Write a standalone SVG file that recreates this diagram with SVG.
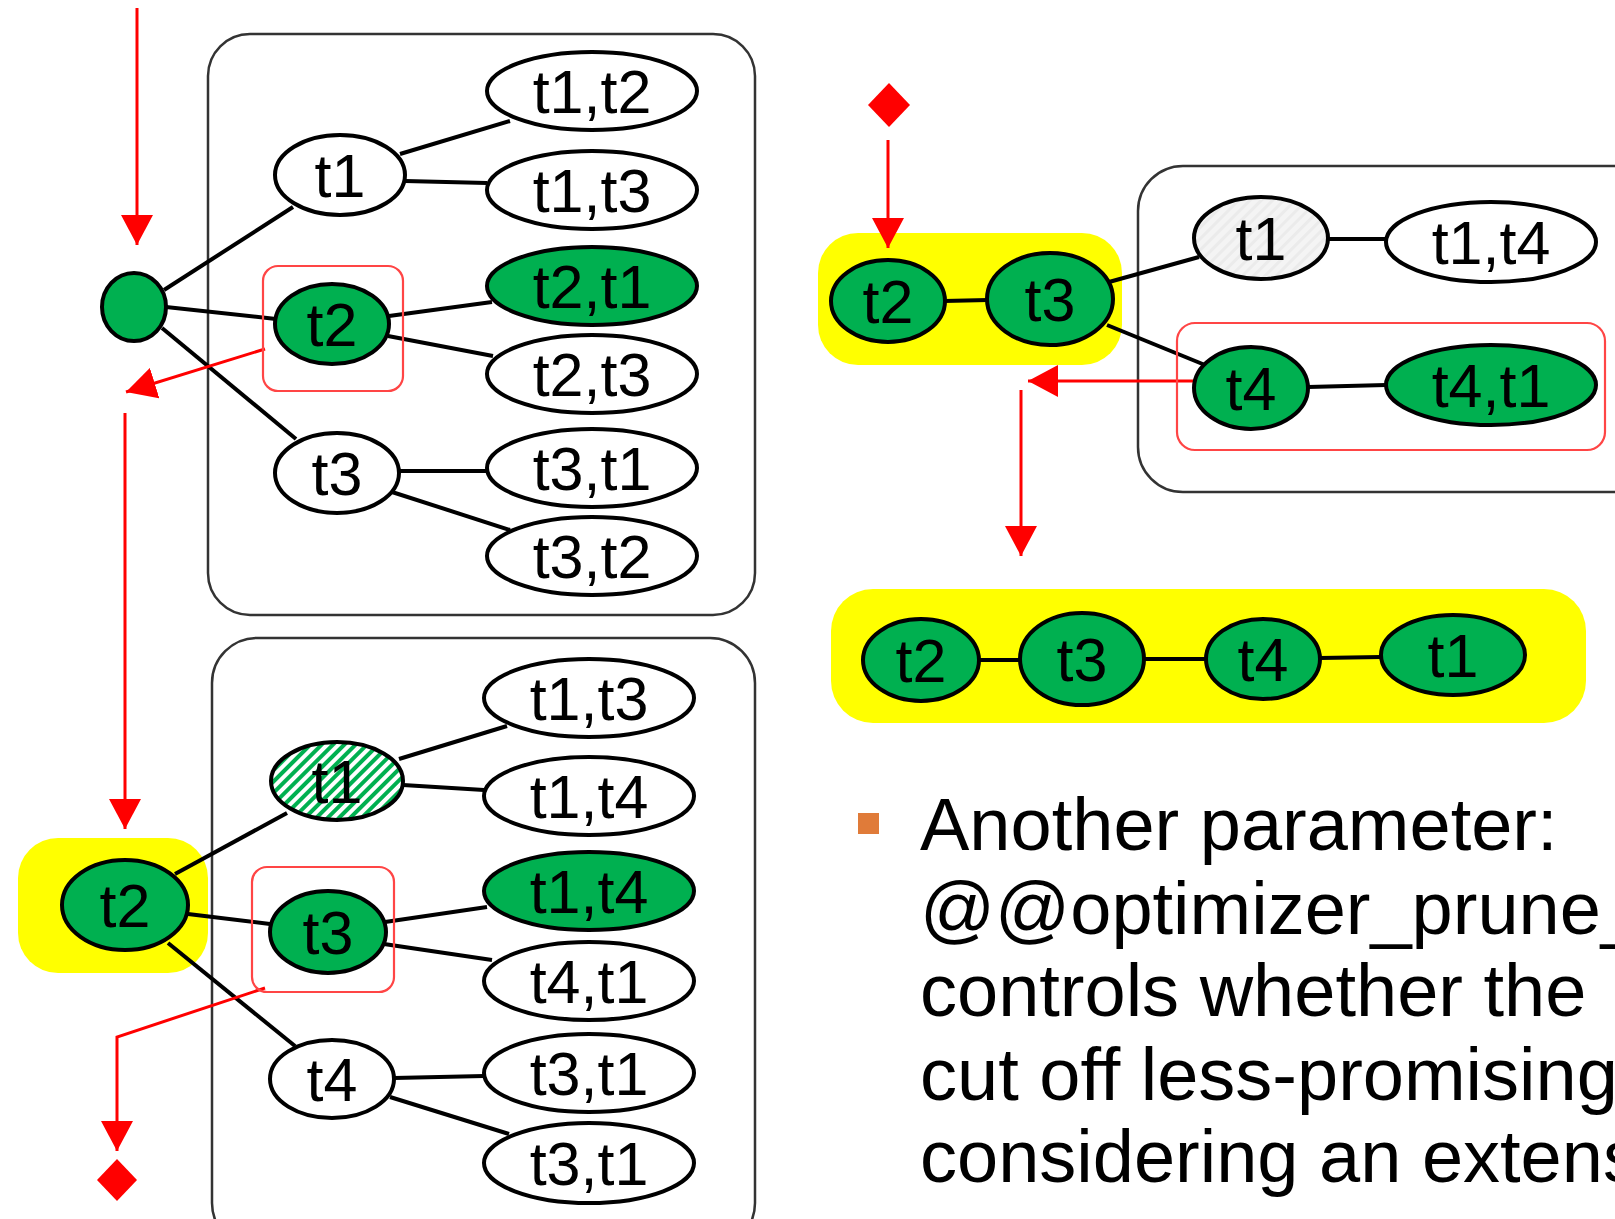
<svg xmlns="http://www.w3.org/2000/svg" width="1615" height="1219" viewBox="0 0 1615 1219">
<defs>
<style>
.box{fill:none;stroke:#333;stroke-width:2.5}
.hl{fill:#ffff00}
.sel{fill:none;stroke:#ff4545;stroke-width:2.2}
.n{stroke:#000;stroke-width:4}
.w{fill:#fff}
.g{fill:#00b050}
.e{stroke:#000;stroke-width:4;fill:none}
.r{stroke:#ff0000;stroke-width:3;fill:none}
.t{font-family:"Liberation Sans",Arial,sans-serif;font-size:61px;text-anchor:middle;fill:#000}
.body{font-family:"Liberation Sans",Arial,sans-serif;font-size:74px;fill:#000}
</style>
<marker id="ah" viewBox="0 0 30 32" refX="30" refY="16" markerWidth="30" markerHeight="32" markerUnits="userSpaceOnUse" orient="auto">
<path d="M0,0 L30,16 L0,32 z" fill="#ff0000"/>
</marker>
<pattern id="hatch" width="8" height="8" patternUnits="userSpaceOnUse" patternTransform="rotate(45)">
<rect width="8" height="8" fill="#fff"/>
<rect width="4" height="8" fill="#00b050"/>
</pattern>
<pattern id="hatchL" width="8" height="8" patternUnits="userSpaceOnUse" patternTransform="rotate(45)">
<rect width="8" height="8" fill="#f4f4f4"/>
<rect width="3" height="8" fill="#ebebeb"/>
</pattern>
</defs>

<g id="highlights">
<rect class="hl" x="18" y="838" width="190" height="135" rx="40"/>
<rect class="hl" x="818" y="233" width="304" height="132" rx="40"/>
<rect class="hl" x="831" y="589" width="755" height="134" rx="42"/>
</g>

<g id="panels">
<rect id="panel-top-left" class="box" x="208" y="34" width="547" height="581" rx="42"/>
<rect id="panel-bottom-left" class="box" x="212" y="638" width="543" height="610" rx="45"/>
<rect id="panel-right" class="box" x="1138" y="166" width="520" height="326" rx="45"/>
</g>

<g id="connectors">
<line class="e" x1="164" y1="290" x2="293" y2="207"/>
<line class="e" x1="166" y1="307" x2="276" y2="319"/>
<line class="e" x1="162" y1="328" x2="296" y2="439"/>
<line class="e" x1="400" y1="154" x2="510" y2="121"/>
<line class="e" x1="405" y1="181" x2="487" y2="183"/>
<line class="e" x1="389" y1="316" x2="492" y2="302"/>
<line class="e" x1="388" y1="336" x2="493" y2="356"/>
<line class="e" x1="398" y1="471" x2="487" y2="471"/>
<line class="e" x1="392" y1="492" x2="510" y2="530"/>
<line class="e" x1="175" y1="874" x2="287" y2="813"/>
<line class="e" x1="188" y1="914" x2="270" y2="924"/>
<line class="e" x1="168" y1="943" x2="295" y2="1046"/>
<line class="e" x1="399" y1="759" x2="507" y2="726"/>
<line class="e" x1="403" y1="785" x2="484" y2="790"/>
<line class="e" x1="385" y1="922" x2="487" y2="907"/>
<line class="e" x1="384" y1="944" x2="492" y2="960"/>
<line class="e" x1="394" y1="1078" x2="484" y2="1076"/>
<line class="e" x1="390" y1="1097" x2="509" y2="1134"/>
<line class="e" x1="944" y1="301" x2="988" y2="300"/>
<line class="e" x1="1109" y1="282" x2="1199" y2="257"/>
<line class="e" x1="1107" y1="325" x2="1205" y2="365"/>
<line class="e" x1="1328" y1="239" x2="1386" y2="239"/>
<line class="e" x1="1308" y1="387" x2="1386" y2="385"/>
<line class="e" x1="979" y1="660" x2="1020" y2="660"/>
<line class="e" x1="1144" y1="659" x2="1206" y2="659"/>
<line class="e" x1="1320" y1="658" x2="1381" y2="657"/>
<line class="r" x1="137" y1="8" x2="137" y2="245" marker-end="url(#ah)"/>
<line class="r" x1="265" y1="349" x2="126" y2="392" marker-end="url(#ah)"/>
<line class="r" x1="125" y1="413" x2="125" y2="829" marker-end="url(#ah)"/>
<polyline class="r" points="265,988 117,1037 117,1151" marker-end="url(#ah)"/>
<line class="r" x1="888" y1="140" x2="888" y2="248" marker-end="url(#ah)"/>
<line class="r" x1="1195" y1="381" x2="1028" y2="381" marker-end="url(#ah)"/>
<line class="r" x1="1021" y1="390" x2="1021" y2="556" marker-end="url(#ah)"/>
</g>

<g id="end-markers">
<polygon id="diamond-bottom-left" points="117,1159 137,1180 117,1201 97,1180" fill="#ff0000"/>
<polygon id="diamond-right" points="889,83 910,105 889,127 868,105" fill="#ff0000"/>
</g>

<g id="nodes">
<g id="tl-root"><ellipse class="n g" cx="134" cy="307" rx="32" ry="34"/></g>
<g id="tl-t1"><ellipse class="n w" cx="340" cy="175" rx="65" ry="40"/><text class="t" x="340" y="197">t1</text></g>
<g id="tl-t2"><ellipse class="n g" cx="332" cy="324" rx="57" ry="40"/><text class="t" x="332" y="346">t2</text></g>
<g id="tl-t3"><ellipse class="n w" cx="337" cy="473" rx="62" ry="40"/><text class="t" x="337" y="495">t3</text></g>
<g id="tl-t1t2"><ellipse class="n w" cx="592" cy="91" rx="105" ry="39"/><text class="t" x="592" y="113">t1,t2</text></g>
<g id="tl-t1t3"><ellipse class="n w" cx="592" cy="190" rx="105" ry="39"/><text class="t" x="592" y="212">t1,t3</text></g>
<g id="tl-t2t1"><ellipse class="n g" cx="592" cy="286" rx="105" ry="39"/><text class="t" x="592" y="308">t2,t1</text></g>
<g id="tl-t2t3"><ellipse class="n w" cx="592" cy="374" rx="105" ry="39"/><text class="t" x="592" y="396">t2,t3</text></g>
<g id="tl-t3t1"><ellipse class="n w" cx="592" cy="468" rx="105" ry="39"/><text class="t" x="592" y="490">t3,t1</text></g>
<g id="tl-t3t2"><ellipse class="n w" cx="592" cy="556" rx="105" ry="39"/><text class="t" x="592" y="578">t3,t2</text></g>
<g id="tl-select"><rect class="sel" x="263" y="266" width="140" height="125" rx="15"/></g>

<g id="bl-t2"><ellipse class="n g" cx="125" cy="905" rx="63" ry="45"/><text class="t" x="125" y="927">t2</text></g>
<g id="bl-t1"><ellipse class="n" fill="url(#hatch)" cx="337" cy="781" rx="66" ry="39"/><text class="t" x="337" y="803">t1</text></g>
<g id="bl-t3"><ellipse class="n g" cx="328" cy="932" rx="58" ry="41"/><text class="t" x="328" y="954">t3</text></g>
<g id="bl-t4"><ellipse class="n w" cx="332" cy="1079" rx="62" ry="39"/><text class="t" x="332" y="1101">t4</text></g>
<g id="bl-t1t3"><ellipse class="n w" cx="589" cy="698" rx="105" ry="39"/><text class="t" x="589" y="720">t1,t3</text></g>
<g id="bl-t1t4"><ellipse class="n w" cx="589" cy="796" rx="105" ry="39"/><text class="t" x="589" y="818">t1,t4</text></g>
<g id="bl-t1t4-g"><ellipse class="n g" cx="589" cy="891" rx="105" ry="39"/><text class="t" x="589" y="913">t1,t4</text></g>
<g id="bl-t4t1"><ellipse class="n w" cx="589" cy="981" rx="105" ry="39"/><text class="t" x="589" y="1003">t4,t1</text></g>
<g id="bl-t3t1"><ellipse class="n w" cx="589" cy="1073" rx="105" ry="39"/><text class="t" x="589" y="1095">t3,t1</text></g>
<g id="bl-t3t1-b"><ellipse class="n w" cx="589" cy="1163" rx="105" ry="40"/><text class="t" x="589" y="1185">t3,t1</text></g>
<g id="bl-select"><rect class="sel" x="252" y="867" width="142" height="125" rx="15"/></g>

<g id="rt-t2"><ellipse class="n g" cx="888" cy="301" rx="57" ry="41"/><text class="t" x="888" y="323">t2</text></g>
<g id="rt-t3"><ellipse class="n g" cx="1050" cy="299" rx="63" ry="46"/><text class="t" x="1050" y="321">t3</text></g>
<g id="rt-t1"><ellipse class="n" fill="url(#hatchL)" cx="1261" cy="238" rx="67" ry="41"/><text class="t" x="1261" y="260">t1</text></g>
<g id="rt-t1t4"><ellipse class="n w" cx="1491" cy="242" rx="105" ry="40"/><text class="t" x="1491" y="264">t1,t4</text></g>
<g id="rt-t4"><ellipse class="n g" cx="1251" cy="388" rx="57" ry="41"/><text class="t" x="1251" y="410">t4</text></g>
<g id="rt-t4t1"><ellipse class="n g" cx="1491" cy="385" rx="105" ry="40"/><text class="t" x="1491" y="407">t4,t1</text></g>
<g id="rt-select"><rect class="sel" x="1177" y="323" width="428" height="127" rx="18"/></g>

<g id="br-t2"><ellipse class="n g" cx="921" cy="660" rx="58" ry="41"/><text class="t" x="921" y="682">t2</text></g>
<g id="br-t3"><ellipse class="n g" cx="1082" cy="659" rx="62" ry="46"/><text class="t" x="1082" y="681">t3</text></g>
<g id="br-t4"><ellipse class="n g" cx="1263" cy="659" rx="57" ry="40"/><text class="t" x="1263" y="681">t4</text></g>
<g id="br-t1"><ellipse class="n g" cx="1453" cy="655" rx="72" ry="40"/><text class="t" x="1453" y="677">t1</text></g>
</g>

<g id="bullet-text">
<rect x="858" y="813" width="21" height="21" fill="#e07b39"/>
<text class="body" x="920" y="850">Another parameter:</text>
<text class="body" x="920" y="934">@@optimizer_prune_</text>
<text class="body" x="920" y="1016">controls whether the</text>
<text class="body" x="920" y="1100">cut off less-promising</text>
<text class="body" x="920" y="1182">considering an extens</text>
</g>
</svg>
